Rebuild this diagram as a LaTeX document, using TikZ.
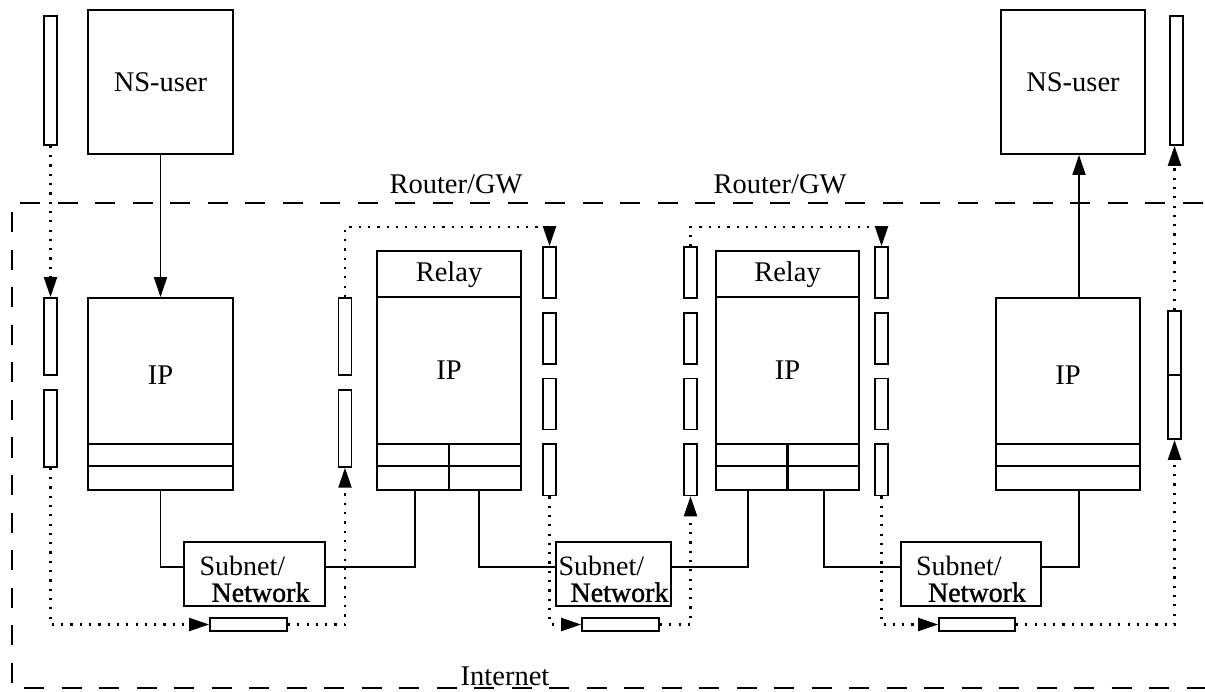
\documentclass[tikz,border=0pt]{standalone}
\usepackage{fontspec}
\setmainfont{Liberation Serif}
\newfontfamily\netfont{Liberation Serif}[FakeBold=1.2]
\usetikzlibrary{arrows.meta,positioning}
\tikzset{
  box/.style={
    draw,
    line width=1.8pt,
    inner sep=0pt
  },
  nsbox/.style={
    box,
    minimum width=145pt,
    minimum height=144pt
  },
  ipbox/.style={
    box,
    minimum width=145pt,
    minimum height=192pt,
    label={[yshift=19pt]center:IP}
  },
  relaybox/.style={
    box,
    minimum width=144pt,
    minimum height=239pt,
    label={[anchor=center,yshift=-25pt]north:Relay}
  },
  subnet/.style={
    box,
    minimum width=141pt,
    minimum height=64pt,
    label={[yshift=-5pt,align=left,font=\fontsize{28}{26.5}\selectfont]center:Subnet/\\\hspace*{12pt}{\netfont Network}}
  },
  vbar/.style={
    box,
    minimum width=13pt,
    minimum height=51pt
  },
  hbar/.style={
    box,
    minimum width=77pt,
    minimum height=13pt
  },
  lbl/.style={
    inner sep=0pt
  },
  wire/.style={
    line width=1.8pt
  },
  arrow/.style={
    -{Triangle[length=20pt,width=13pt]},
    line width=1.8pt
  },
  flow/.style={
    arrow,
    line width=2.2pt,
    dash pattern=on 2.2pt off 7.1pt
  },
  frame/.style={
    line width=1.8pt,
    dash pattern=on 20pt off 17.5pt
  }
}

\begin{document}
\begin{tikzpicture}[x=1pt, y=-1pt, node distance=13pt, font=\fontsize{28.5}{25}\selectfont]
\useasboundingbox (0,0) rectangle (1205,692);

% internet frame and labels
\draw[frame] (1240,203) -- (12,203) -- (12,688) -- (1240,688);
\node[lbl] (gw1) at (456,184) {Router/GW};
\node[lbl] (gw2) at (780,184) {Router/GW};
\node[lbl] (inet) at (505,676) {Internet};

% end systems
\node[nsbox] (ns1) at (160.5,82) {NS-user};
\node[nsbox, minimum width=144pt] (ns2) at (1073,82) {NS-user};
\node[vbar, minimum height=129pt] (ub1) at (50.5,80.5) {};
\node[vbar, minimum height=129pt] (ub2) at (1176.5,80.5) {};
\node[ipbox] (ip1) at (160.5,394) {};
\node[ipbox, minimum width=144pt] (ip2) at (1068,394) {};
\draw[wire] ([yshift=47pt]ip1.south west) -- ([yshift=47pt]ip1.south east);
\draw[wire] ([yshift=25pt]ip1.south west) -- ([yshift=25pt]ip1.south east);
\draw[wire] ([yshift=47pt]ip2.south west) -- ([yshift=47pt]ip2.south east);
\draw[wire] ([yshift=25pt]ip2.south west) -- ([yshift=25pt]ip2.south east);

% routers
\node[relaybox] (r1) at (449,370.5) {IP};
\node[relaybox, minimum width=143pt, line width=2.4pt] (r2) at (787.5,370.5) {IP};
\draw[wire] ([yshift=-47pt]r1.north west) -- ([yshift=-47pt]r1.north east);
\draw[wire] ([yshift=47pt]r1.south west) -- ([yshift=47pt]r1.south east);
\draw[wire] ([yshift=25pt]r1.south west) -- ([yshift=25pt]r1.south east);
\draw[wire] ([yshift=47pt]r1.south) -- (r1.south);
\draw[wire, line width=2.4pt] ([yshift=-47pt]r2.north west) -- ([yshift=-47pt]r2.north east);
\draw[wire, line width=2.4pt] ([yshift=47pt]r2.south west) -- ([yshift=47pt]r2.south east);
\draw[wire, line width=2.4pt] ([yshift=25pt]r2.south west) -- ([yshift=25pt]r2.south east);
\draw[wire, line width=2.4pt] ([yshift=47pt]r2.south) -- (r2.south);

% buffers
\node[vbar, minimum height=77pt] (lb1) at (50.5,336.5) {};
\node[vbar, minimum height=77pt, below=of lb1] (lb2) {};
\node[vbar, minimum height=77pt] (ll1a) at (345,336.5) {};
\node[vbar, minimum height=77pt, below=of ll1a] (ll1b) {};
\node[vbar] (rr1a) at (549.5,272.5) {};
\node[vbar, below=of rr1a] (rr1b) {};
\node[vbar, below=of rr1b] (rr1c) {};
\node[vbar, below=of rr1c] (rr1d) {};
\node[vbar] (ll2a) at (690.5,272.5) {};
\node[vbar, below=of ll2a] (ll2b) {};
\node[vbar, below=of ll2b] (ll2c) {};
\node[vbar, below=of ll2c] (ll2d) {};
\node[vbar] (rr2a) at (881.5,272.5) {};
\node[vbar, below=of rr2a] (rr2b) {};
\node[vbar, below=of rr2b] (rr2c) {};
\node[vbar, below=of rr2c] (rr2d) {};
\node[vbar, minimum height=128pt] (rb) at (1174.5,375) {};
\draw[wire] (rb.west) -- (rb.east);

% subnets
\node[subnet] (s1) at (254.5,574) {};
\node[subnet, minimum width=115pt] (s2) at (613.5,574) {};
\node[subnet, minimum width=140pt] (s3) at (971,574) {};
\node[hbar] (hb1) at (248.5,624.5) {};
\node[hbar] (hb2) at (620.5,624.5) {};
\node[hbar, minimum width=76pt] (hb3) at (977,624.5) {};

% physical links
\draw[arrow] (ns1.south) -- (ip1.north);
\draw[wire] (ip1.south) |- ([yshift=7pt]s1.west);
\draw[wire] ([xshift=-34pt]r1.south) |- ([yshift=7pt]s1.east);
\draw[wire] ([xshift=30pt]r1.south) |- ([yshift=7pt]s2.west);
\draw[wire] ([xshift=-39.5pt]r2.south) |- ([yshift=7pt]s2.east);
\draw[wire] ([xshift=36.5pt]r2.south) |- ([yshift=7pt]s3.west);
\draw[wire] ([xshift=11pt]ip2.south) |- ([yshift=7pt]s3.east);
\draw[arrow] ([xshift=11pt]ip2.north) -- ([xshift=11pt]ip2.north |- ns2.south);

% data flow
\draw[flow] (ub1.south) -- (lb1.north);
\draw[flow] (lb2.south) |- (hb1.west);
\draw[flow] (hb1.east) -| (ll1b.south);
\draw[flow] (ll1a.north) -- ++(0,-70) -| (rr1a.north);
\draw[flow] (rr1d.south) |- (hb2.west);
\draw[flow] (hb2.east) -| (ll2d.south);
\draw[flow] (ll2a.north) -- ++(0,-19) -| (rr2a.north);
\draw[flow] (rr2d.south) |- (hb3.west);
\draw[flow] (hb3.east) -| (rb.south);
\draw[flow] (rb.north) -- (rb.north |- ub2.south);
\end{tikzpicture}
\end{document}
